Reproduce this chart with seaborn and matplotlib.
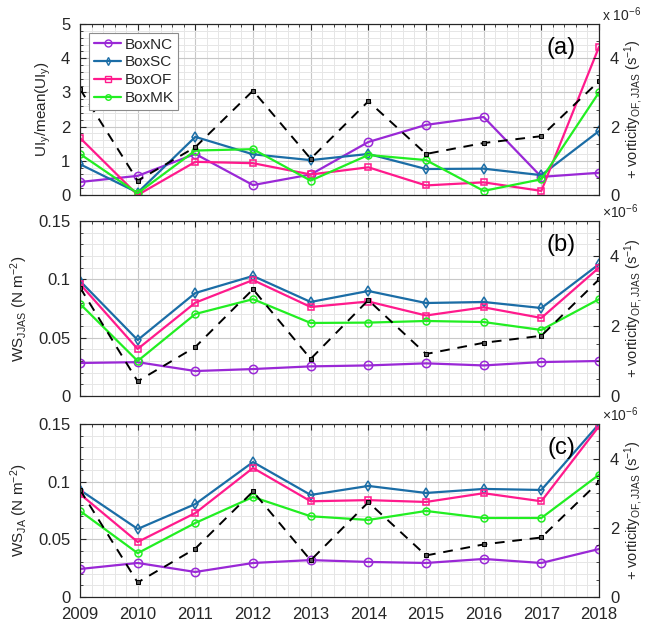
import numpy as np
import pandas as pd
import matplotlib
matplotlib.use("Agg")
import matplotlib.pyplot as plt
import seaborn as sns
from matplotlib.ticker import MultipleLocator, FuncFormatter
from matplotlib.lines import Line2D

years = [2009, 2010, 2011, 2012, 2013, 2014, 2015, 2016, 2017, 2018]
series_names = ["BoxNC", "BoxSC", "BoxOF", "BoxMK"]

# panel (a): UI_y / mean(UI_y)
a_NC = [0.38, 0.56, 1.20, 0.29, 0.60, 1.55, 2.05, 2.28, 0.53, 0.65]
a_SC = [0.90, 0.07, 1.70, 1.19, 1.02, 1.20, 0.76, 0.77, 0.58, 1.87]
a_OF = [1.67, 0.00, 0.97, 0.93, 0.60, 0.81, 0.28, 0.37, 0.12, 4.33]
a_MK = [1.20, 0.05, 1.30, 1.34, 0.42, 1.17, 1.02, 0.12, 0.46, 3.00]

# panel (b): WS_JJAS (N m^-2)
b_NC = [0.0283, 0.0290, 0.0214, 0.0231, 0.0254, 0.0262, 0.0280, 0.0262, 0.0291, 0.0300]
b_SC = [0.0986, 0.0480, 0.0883, 0.1029, 0.0806, 0.0900, 0.0797, 0.0806, 0.0754, 0.1130]
b_OF = [0.0960, 0.0403, 0.0800, 0.0994, 0.0763, 0.0810, 0.0690, 0.0760, 0.0669, 0.1100]
b_MK = [0.0790, 0.0300, 0.0703, 0.0830, 0.0626, 0.0629, 0.0643, 0.0634, 0.0566, 0.0830]

# panel (c): WS_JA (N m^-2)
c_NC = [0.0243, 0.0295, 0.0217, 0.0295, 0.0320, 0.0304, 0.0295, 0.0330, 0.0295, 0.0416]
c_SC = [0.0928, 0.0590, 0.0806, 0.1170, 0.0885, 0.0963, 0.0902, 0.0937, 0.0928, 0.1500]
c_OF = [0.0893, 0.0477, 0.0728, 0.1119, 0.0830, 0.0840, 0.0824, 0.0900, 0.0830, 0.1480]
c_MK = [0.0746, 0.0380, 0.0642, 0.0867, 0.0700, 0.0668, 0.0746, 0.0685, 0.0685, 0.1060]

# + vorticity_OF,JJAS (s^-1)
vort = [3.10e-6, 0.42e-6, 1.40e-6, 3.05e-6, 1.06e-6, 2.74e-6, 1.20e-6, 1.52e-6, 1.72e-6, 3.33e-6]

panels = [
    dict(vals=[a_NC, a_SC, a_OF, a_MK], ylim=(0, 5), minor=0.2,
         yticks=[0, 1, 2, 3, 4, 5], yticklabels=["0", "1", "2", "3", "4", "5"],
         ylabel="UI$_y$/mean(UI$_y$)", tag="(a)", offset="x 10$^{-6}$"),
    dict(vals=[b_NC, b_SC, b_OF, b_MK], ylim=(0, 0.15), minor=0.01,
         yticks=[0, 0.05, 0.1, 0.15], yticklabels=["0", "0.05", "0.1", "0.15"],
         ylabel="WS$_{JJAS}$ (N m$^{-2}$)", tag="(b)", offset="×10$^{-6}$"),
    dict(vals=[c_NC, c_SC, c_OF, c_MK], ylim=(0, 0.15), minor=0.01,
         yticks=[0, 0.05, 0.1, 0.15], yticklabels=["0", "0.05", "0.1", "0.15"],
         ylabel="WS$_{JA}$ (N m$^{-2}$)", tag="(c)", offset="×10$^{-6}$"),
]

colors = ["#9A28D6", "#1B6DA6", "#FF1A8C", "#22EE22"]
markers = ["o", "d", "s", "o"]
msizes = [6, 5, 5, 5]

sns.set_style("white")
plt.rcParams["font.family"] = ["Liberation Sans", "DejaVu Sans"]
plt.rcParams["mathtext.fontset"] = "custom"
plt.rcParams["mathtext.rm"] = "Liberation Sans"
plt.rcParams["mathtext.it"] = "Liberation Sans"

fig = plt.figure(figsize=(6.47, 6.31), dpi=100)
rects = [
    (80 / 647, 1 - 195 / 631, 519 / 647, 171 / 631),
    (80 / 647, 1 - 396 / 631, 519 / 647, 175 / 631),
    (80 / 647, 1 - 597 / 631, 519 / 647, 173 / 631),
]
spine_col = "#262626"

for i, (p, r) in enumerate(zip(panels, rects)):
    ax = fig.add_axes(r)
    ax2 = ax.twinx()
    for name, v, c, m, ms in zip(series_names, p["vals"], colors, markers, msizes):
        sns.lineplot(x=years, y=v, ax=ax, color=c, marker=m, markersize=ms,
                     markerfacecolor="none", markeredgecolor=c, markeredgewidth=1.1,
                     linewidth=1.6, label=name, legend=False, zorder=3)
    sns.lineplot(x=years, y=vort, ax=ax2, color="black", marker="s", markersize=3.5,
                 markerfacecolor="#555555", markeredgecolor="black",
                 linestyle=(0, (5, 4)), linewidth=1.4, legend=False, zorder=2)

    ax.set_xlim(2009, 2018)
    ax.set_ylim(*p["ylim"])
    ax2.set_ylim(0, 5e-6)
    ax.set_xticks(years)
    ax.xaxis.set_minor_locator(MultipleLocator(0.2))
    ax.set_yticks(p["yticks"])
    ax.set_yticklabels(p["yticklabels"])
    ax.yaxis.set_minor_locator(MultipleLocator(p["minor"]))
    if i == 2:
        ax.set_xticklabels([str(y) for y in years])
    else:
        ax.set_xticklabels([])

    ax.grid(True, which="major", color="#c8c8c8", linewidth=0.8)
    ax.grid(True, which="minor", color="#e6e6e6", linewidth=0.7)
    ax.set_axisbelow(True)

    ax2.set_yticks([0, 2e-6, 4e-6])
    ax2.yaxis.set_major_formatter(FuncFormatter(lambda v, pos: f"{v * 1e6:g}"))
    ax2.yaxis.set_minor_locator(MultipleLocator(0.5e-6))

    ax.tick_params(axis="both", which="both", direction="in", top=True,
                   labelsize=12, colors=spine_col, length=4)
    ax.tick_params(axis="x", pad=7)
    ax.tick_params(axis="y", pad=7, right=False)
    ax.tick_params(which="minor", length=2)
    ax2.tick_params(axis="y", which="both", direction="in", labelsize=12,
                    colors=spine_col, length=4, pad=8)
    ax2.tick_params(axis="y", which="minor", length=2)
    for a in (ax, ax2):
        for s in a.spines.values():
            s.set_color(spine_col)
            s.set_linewidth(0.8)

    ax.set_ylabel(p["ylabel"], fontsize=11, color=spine_col, labelpad=6)
    ax2.set_ylabel("+ vorticity$_{OF,JJAS}$ (s$^{-1}$)", fontsize=10.5,
                   color=spine_col, labelpad=2)
    ax2.text(0.955, 0.86, p["tag"], transform=ax.transAxes, fontsize=17,
             ha="right", va="center", color="black")
    ax2.text(1.005, 0.998, p["offset"], transform=ax.transAxes, fontsize=10,
             ha="left", va="bottom", color=spine_col)

    if i == 0:
        handles = [Line2D([], [], color=c, marker=m, markersize=ms - 1,
                          markerfacecolor="none", markeredgecolor=c, linewidth=1.6)
                   for c, m, ms in zip(colors, markers, msizes)]
        leg = ax2.legend(handles, series_names, loc="upper left",
                         bbox_to_anchor=(0.012, 0.965), fontsize=11,
                         frameon=True, fancybox=False, edgecolor="#8c8c8c",
                         framealpha=1, handlelength=1.8, handletextpad=0.2,
                         labelspacing=0.25, borderpad=0.3, borderaxespad=0.2)
        leg.get_frame().set_linewidth(0.8)

fig.savefig("out.png", dpi=100)
